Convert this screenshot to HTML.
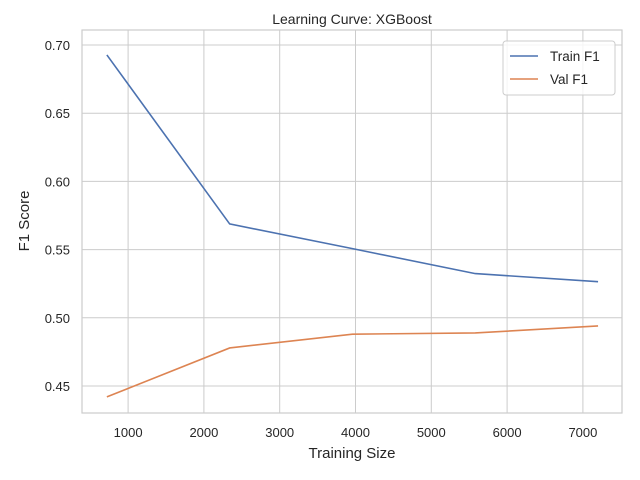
<!DOCTYPE html>
<html><head><meta charset="utf-8"><style>
body{margin:0;background:#fff;}
svg{display:block;font-family:"Liberation Sans","DejaVu Sans",sans-serif;}
</style></head><body>
<svg id="chart" width="640" height="480"></svg>
<script>
const trainSizes=[720,2340,3960,5580,7200];
const trainF1=[0.6927,0.5688,0.5507,0.5324,0.5265];
const valF1=[0.4420,0.4779,0.4880,0.4889,0.4940];
const xTicks=[1000,2000,3000,4000,5000,6000,7000];
const yTicks=[0.45,0.50,0.55,0.60,0.65,0.70];
const seriesNames=["Train F1","Val F1"];
const colors=["#4c72b0","#dd8452"];

const L=82,R=622,T=30,B=413;
const xs=v=>52.3+v*0.0758;
const ys=v=>45+(0.70-v)*1364;
const svg=document.getElementById('chart');
const NS='http://www.w3.org/2000/svg';
function mk(tag,attrs,parent){const e=document.createElementNS(NS,tag);for(const k in attrs)e.setAttribute(k,attrs[k]);(parent||svg).appendChild(e);return e;}

xTicks.forEach(t=>{
  const g=mk('line',{x1:xs(t),x2:xs(t),y1:T,y2:B,stroke:'#cccccc','stroke-width':1});
  
  
  const tx=mk('text',{x:xs(t),y:B+24,'text-anchor':'middle','font-size':13,fill:'#262626'});
  tx.textContent=t;
  
  
});
yTicks.forEach(t=>{
  const g=mk('line',{x1:L,x2:R,y1:ys(t),y2:ys(t),stroke:'#cccccc','stroke-width':1});
  
  
  const tx=mk('text',{x:L-12,y:ys(t)+5,'text-anchor':'end','font-size':13,fill:'#262626'});
  tx.textContent=t.toFixed(2);
  
  
});
const frame=mk('rect',{x:L,y:T,width:R-L,height:B-T,fill:'none',stroke:'#cccccc','stroke-width':1.2});



[trainF1,valF1].forEach((vals,i)=>{
  const p=mk('polyline',{points:vals.map((v,j)=>xs(trainSizes[j])+','+ys(v)).join(' '),fill:'none',stroke:colors[i],'stroke-width':1.6});
  
  
});

const title=mk('text',{x:352,y:24,'text-anchor':'middle','font-size':14,fill:'#262626'});
title.textContent='Learning Curve: XGBoost';


const xl=mk('text',{x:352,y:458,'text-anchor':'middle','font-size':15,fill:'#262626'});
xl.textContent='Training Size';


const yl=mk('text',{x:29,y:221,'text-anchor':'middle','font-size':15,fill:'#262626',transform:'rotate(-90 29 221)'});
yl.textContent='F1 Score';



const lg=mk('rect',{x:503,y:41,width:112,height:54,rx:3,fill:'#fff','fill-opacity':0.8,stroke:'#cccccc'});


seriesNames.forEach((n,i)=>{
  const y=56+i*23;
  const ln=mk('line',{x1:510,x2:538,y1:y,y2:y,stroke:colors[i],'stroke-width':1.6});
  
  
  const tx=mk('text',{x:550,y:y+5,'font-size':13.5,fill:'#262626'});
  tx.textContent=n;
  
  
});
</script>
</body></html>
